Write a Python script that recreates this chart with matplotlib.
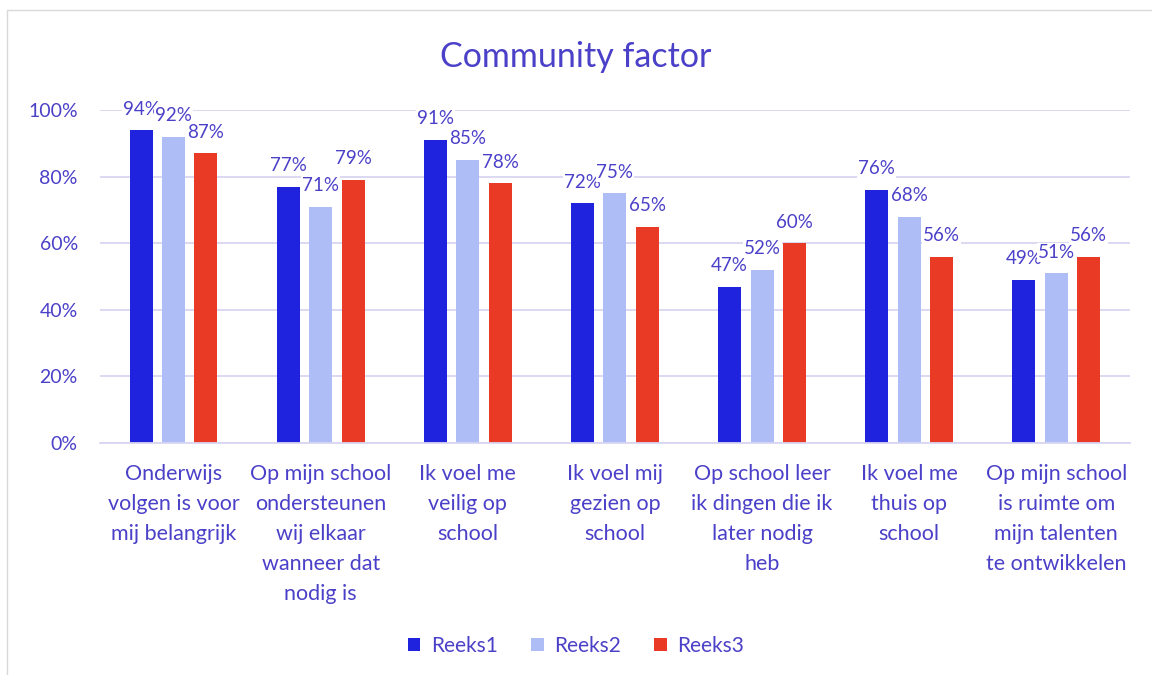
import matplotlib
matplotlib.use("Agg")
import matplotlib.pyplot as plt
import numpy as np

# data
categorieen = ["Onderwijs\nvolgen is voor\nmij belangrijk",
               "Op mijn school\nondersteunen\nwij elkaar\nwanneer dat\nnodig is",
               "Ik voel me\nveilig op\nschool",
               "Ik voel mij\ngezien op\nschool",
               "Op school leer\nik dingen die ik\nlater nodig\nheb",
               "Ik voel me\nthuis op\nschool",
               "Op mijn school\nis ruimte om\nmijn talenten\nte ontwikkelen"]
reeks1 = [0.94, 0.77, 0.91, 0.72, 0.47, 0.76, 0.49]
reeks2 = [0.92, 0.71, 0.85, 0.75, 0.52, 0.68, 0.51]
reeks3 = [0.87, 0.79, 0.78, 0.65, 0.60, 0.56, 0.56]
namen = ["Reeks1", "Reeks2", "Reeks3"]
kleuren = ["#1F23DD", "#AEBDF5", "#E93A25"]
tekstkleur = "#4B40C8"

plt.rcParams["font.family"] = ["Lato", "DejaVu Sans"]

fig = plt.figure(figsize=(11.52, 6.75), dpi=100)
ax = fig.add_axes([0.0868, 0.3437, 0.894, 0.4933])

x = np.arange(len(categorieen))
breedte = 0.157
stap = 0.22
for i, (waarden, naam, kleur) in enumerate(zip([reeks1, reeks2, reeks3], namen, kleuren)):
    pos = x + (i - 1) * stap
    ax.bar(pos, waarden, breedte, color=kleur, label=naam, zorder=2)
    for p, v in zip(pos, waarden):
        ax.annotate(f"{round(v*100)}%", (p, v), xytext=(0, 9), textcoords="offset points",
                    ha="center", va="bottom", fontsize=13.5, color=tekstkleur, zorder=3,
                    bbox=dict(boxstyle="square,pad=0.05", fc="white", ec="none"))

ax.set_xlim(-0.5, len(categorieen) - 0.5)
ax.set_ylim(0, 1.0)
ax.set_yticks([0, 0.2, 0.4, 0.6, 0.8, 1.0])
ax.set_yticklabels(["0%", "20%", "40%", "60%", "80%", "100%"])
ax.set_xticks(x)
ax.set_xticklabels(categorieen, linespacing=1.62, fontsize=15.5)
ax.tick_params(axis="both", length=0, labelsize=14, colors=tekstkleur)
ax.tick_params(axis="x", pad=15, labelsize=15.5)
ax.tick_params(axis="y", pad=16)
ax.grid(axis="y", color="#D9D5F2", linewidth=1.3, zorder=0)
for s in ["top", "right", "left"]:
    ax.spines[s].set_visible(False)
ax.spines["bottom"].set_color("#D9D5F2")
ax.spines["bottom"].set_linewidth(1.3)

fig.text(0.5, 0.915, "Community factor", ha="center", va="center", fontsize=24.5, color=tekstkleur)

fig.legend(loc="center", bbox_to_anchor=(0.5, 0.043), ncol=3, frameon=False,
           fontsize=15, labelcolor=tekstkleur, handlelength=0.6, handleheight=0.6,
           handletextpad=0.5, columnspacing=1.6)

# rand van de grafiek
fig.add_artist(plt.Rectangle((0.006, -0.01), 1.1, 0.995, transform=fig.transFigure,
                             fill=False, ec="#D9D9D9", lw=1))

fig.savefig("out.png", dpi=100)
